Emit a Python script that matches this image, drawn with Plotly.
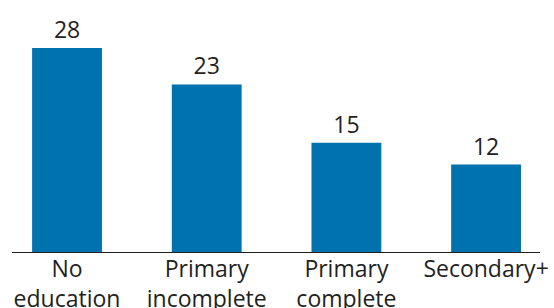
import plotly.graph_objects as go

categories = ["No<br>education", "Primary<br>incomplete", "Primary<br>complete", "Secondary+"]
values = [28, 23, 15, 12]

bar_color = "#0073AE"
text_color = "#231F20"
font_family = "Open Sans"

fig = go.Figure(
    go.Bar(
        x=categories,
        y=values,
        marker=dict(color=bar_color, line=dict(width=0)),
        text=[str(v) for v in values],
        textposition="outside",
        textfont=dict(family=font_family, size=23, color=text_color),
        cliponaxis=False,
        width=0.5,
    )
)

fig.update_layout(
    width=554,
    height=308,
    margin=dict(l=12, r=14, t=0, b=56, autoexpand=False),
    paper_bgcolor="white",
    plot_bgcolor="white",
    showlegend=False,
    font=dict(family=font_family, size=23, color=text_color),
    xaxis=dict(
        range=[-0.394, 3.386],
        showline=True,
        linecolor=text_color,
        linewidth=1,
        ticks="",
        showgrid=False,
        automargin=False,
        ticklabelstandoff=-4,
        tickfont=dict(family=font_family, size=23, color=text_color),
    ),
    yaxis=dict(
        range=[0, 34.6],
        visible=False,
        showgrid=False,
        automargin=False,
    ),
)

fig.write_html(
    "out.html",
    config={"displayModeBar": False},
    post_script="document.body.style.margin='0';document.body.style.overflow='hidden';",
)
